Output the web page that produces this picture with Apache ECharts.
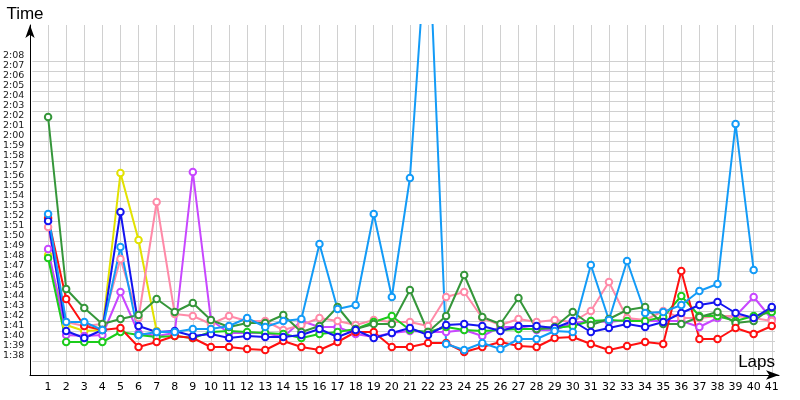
<!doctype html>
<html>
<head>
    <meta charset="utf-8">
    <title>Lap times</title>
    <script src="https://cdn.jsdelivr.net/npm/echarts@6/dist/echarts.min.js"></script>
</head>
<body style="margin:0;background:#fff">
    <div id="container" style="width:800px;height:400px;"></div>
    <script type="text/javascript">
        // lap numbers
        var laps = [];
        for (var i = 1; i <= 41; i++) laps.push(i);

        // lap times in seconds
        var red = [112.3, 104.2, 101.5, 101.1, 101.3, 99.4, 99.9, 100.5, 100.3, 99.4, 99.4, 99.2, 99.1, 100.0, 99.4, 99.1, 99.9, 100.9, 100.9, 99.4, 99.4, 99.8, 99.8, 98.9, 99.4, 99.9, 99.5, 99.4, 100.3, 100.4, 99.7, 99.1, 99.5, 99.9, 99.7, 107.0, 100.2, 100.2, 101.3, 100.7, 101.5];
        var green = [108.3, 99.9, 99.9, 99.9, 100.9, 100.6, 100.4, 100.5, 100.3, 100.9, 101.0, 100.9, 100.8, 100.7, 100.3, 100.7, 100.9, 101.2, 101.9, 102.5, 101.1, 100.9, 101.4, 101.1, 101.0, 101.1, 101.2, 101.2, 101.3, 101.5, 102.0, 102.1, 102.0, 102.0, 102.4, 104.5, 102.5, 102.5, 102.0, 102.5, 102.9];
        var darkGreen = [122.4, 105.2, 103.3, 101.7, 102.2, 102.6, 104.2, 102.9, 103.8, 102.1, 101.4, 101.8, 101.8, 102.6, 100.9, 101.5, 103.4, 101.2, 101.7, 101.7, 105.1, 100.9, 102.5, 106.6, 102.4, 101.7, 104.3, 101.2, 101.4, 102.9, 101.6, 102.2, 103.1, 103.4, 101.7, 101.7, 102.4, 102.9, 101.8, 102.0, 103.3];
        var blue = [112.0, 101.0, 100.3, 101.1, 112.9, 101.5, 100.9, 101.0, 100.5, 100.7, 100.3, 100.5, 100.4, 100.4, 100.6, 101.2, 100.4, 101.1, 100.3, 100.8, 101.3, 100.6, 101.6, 101.7, 101.5, 101.0, 101.5, 101.5, 101.3, 102.0, 100.9, 101.3, 101.7, 101.4, 101.9, 102.8, 103.6, 103.9, 102.8, 102.3, 103.4];
        var lightBlue = [112.7, 101.9, 101.9, 101.1, 109.4, 100.6, 100.9, 100.9, 101.2, 101.2, 101.5, 102.3, 101.4, 102.0, 102.2, 109.7, 103.2, 103.6, 112.7, 104.4, 116.3, 142.5, 99.7, 99.1, 99.8, 99.2, 100.2, 100.2, 101.0, 100.9, 107.6, 102.1, 108.0, 102.8, 102.9, 103.6, 105.0, 105.7, 121.7, 107.1, null];
        var yellow = [108.6, 101.6, 101.0, 101.1, 116.8, 110.1, 101.0];
        var pink = [111.4, 101.9, 101.5, 101.7, 108.2, 102.3, 113.9, 102.7, 102.5, 101.7, 102.5, 102.0, 102.0, 101.1, 101.6, 102.3, 102.0, 101.6, 102.1, 101.9, 101.9, 101.5, 104.4, 104.9, 102.3, 101.6, 102.2, 101.9, 102.1, 101.9, 103.0, 105.9, 102.3, 102.1, 103.0, 102.3, 102.3, 102.5, 102.5, 102.3, 102.0];
        var violet = [109.2, 100.6, 100.5, 100.6, 104.9, 100.8, 100.5, 100.8, 116.9, 102.1, 100.8, 100.8, 100.8, 100.4, 102.0, 101.4, 101.4, 100.7, 100.4, 100.8, 101.0, 100.9, 100.9, 101.1, 100.5, 101.4, 101.4, 101.1, 101.1, 101.8, 102.0, 101.9, 102.1, 102.0, 102.0, 102.0, 101.4, 102.3, 102.5, 104.4, 102.2];

        function pairs(arr) {
            var out = [];
            for (var i = 0; i < arr.length; i++) out.push([laps[i], arr[i]]);
            return out;
        }
        function mmss(v) {
            var m = Math.floor(v / 60), s = Math.round(v % 60);
            return m + ':' + (s < 10 ? '0' + s : s);
        }
        function line(name, color, arr) {
            return {
                name: name,
                type: 'line',
                xAxisIndex: 0,
                yAxisIndex: 0,
                data: pairs(arr),
                symbol: 'emptyCircle',
                symbolSize: 6.5,
                lineStyle: { width: 2, color: color },
                itemStyle: { color: color, borderWidth: 1.5 },
                clip: true
            };
        }

        var gridColor = '#d0d0d0';
        var option = {
            animation: false,
            backgroundColor: '#fff',
            grid: [
                { left: 30, right: 21, top: 25, bottom: 25 },
                { left: 30, right: 25, top: 61, bottom: 39 }
            ],
            xAxis: [
                {
                    gridIndex: 0, type: 'value', min: 0, max: 41.4, interval: 1,
                    name: 'Laps', nameLocation: 'end', nameGap: -4,
                    nameTextStyle: { fontFamily: 'Liberation Sans', fontSize: 17, color: '#000', align: 'right', verticalAlign: 'bottom', padding: [0, 0, 4, 0] },
                    axisLine: { lineStyle: { color: '#000', width: 1 }, symbol: ['none', 'arrow'], symbolSize: [7, 13] },
                    axisTick: { show: false },
                    splitLine: { show: true, showMaxLine: false, lineStyle: { color: gridColor, width: 1 } },
                    axisLabel: {
                        fontFamily: 'DejaVu Sans', fontSize: 11, color: '#000', margin: 7,
                        showMaxLabel: false,
                        formatter: function (v) { return v >= 1 && v <= 41 ? String(v) : ''; }
                    }
                },
                { gridIndex: 1, type: 'value', min: 0, max: 41.4, show: false }
            ],
            yAxis: [
                {
                    gridIndex: 0, type: 'value', min: 96.6, max: 131.6,
                    name: 'Time', nameLocation: 'end', nameGap: 2,
                    nameTextStyle: { fontFamily: 'Liberation Sans', fontSize: 17, color: '#000', align: 'center', padding: [0, 0, 0, -10] },
                    axisLine: { show: true, lineStyle: { color: '#000', width: 1 }, symbol: ['none', 'arrow'], symbolSize: [7, 13] },
                    axisTick: { show: false },
                    axisLabel: { show: false },
                    splitLine: { show: false }
                },
                {
                    gridIndex: 1, type: 'value', min: 98, max: 128, interval: 1,
                    axisLine: { show: false },
                    axisTick: { show: false },
                    splitLine: { show: true, lineStyle: { color: gridColor, width: 1 } },
                    axisLabel: {
                        fontFamily: 'DejaVu Sans', fontSize: 9.5, color: '#1a1a1a', margin: 8,
                        verticalAlign: 'bottom', lineHeight: 8, padding: [0, 0, 1, 0],
                        showMinLabel: true, showMaxLabel: true, hideOverlap: false,
                        formatter: mmss
                    }
                }
            ],
            series: [
                line('yellow', '#e2e200', yellow),
                line('violet', '#c847ff', violet),
                line('pink', '#ff8aa8', pink),
                line('green', '#1ccc1c', green),
                line('dark green', '#35963a', darkGreen),
                line('red', '#ff1010', red),
                line('blue', '#1414f0', blue),
                line('light blue', '#139bf7', lightBlue)
            ]
        };

        var myChart = echarts.init(document.getElementById('container'));
        myChart.setOption(option);
    </script>
</body>
</html>
